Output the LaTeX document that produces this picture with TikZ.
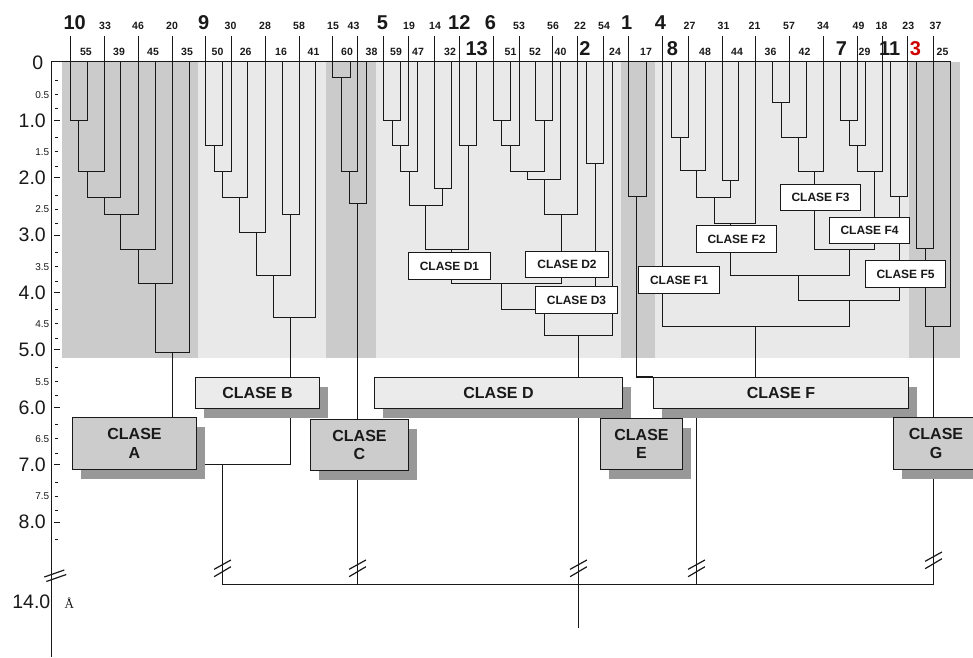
\documentclass[tikz,border=0pt]{standalone}
\usepackage{fontspec}
\setmainfont{Liberation Sans}
\newfontfamily\unitfont{Liberation Serif}
\usetikzlibrary{shadows}
\definecolor{banddark}{RGB}{203,203,203}
\definecolor{bandlight}{RGB}{233,233,233}
\definecolor{boxdark}{RGB}{204,204,204}
\definecolor{boxlight}{RGB}{235,235,235}
\definecolor{shade}{RGB}{152,152,152}
\definecolor{ink}{RGB}{25,25,25}
\definecolor{leafred}{RGB}{206,0,0}
\pgfdeclarelayer{bands}
\pgfdeclarelayer{lines}
\pgfsetlayers{bands,lines,main}
% merge point placed on the pixel grid so thin rules stay crisp
\newcommand\cpt[3]{\coordinate (#1) at ({floor(#2)+0.5},{floor(#3)+0.5});}
% bracket joining two children through the merge point (stem position, height)
\newcommand\dendjoin[3]{\draw[tree] (#1) |- (#2) -| (#3);}

\begin{document}
\begin{tikzpicture}[x=1pt,y=-1pt,
  tree/.style={draw=ink,line width=1.45pt},
  axisline/.style={draw=ink,line width=1.5pt},
  classbox/.style={draw=ink,line width=1.45pt,inner sep=0pt,align=center,
    font=\fontsize{16}{18.3}\selectfont\bfseries,text=ink,
    drop shadow={shadow xshift=8pt,shadow yshift=-9pt,fill=shade,opacity=1}},
  darkbox/.style={classbox,fill=boxdark},
  lightbox/.style={classbox,fill=boxlight},
  subbox/.style={draw=ink,line width=1.45pt,fill=white,inner sep=0pt,
    font=\fontsize{12}{14}\selectfont\bfseries,text=ink},
  leafno/.style={anchor=base,inner sep=0pt,font=\fontsize{10.5}{12}\selectfont\bfseries,text=ink},
  leafbig/.style={anchor=base,inner sep=0pt,font=\fontsize{20}{22}\selectfont\bfseries,text=ink},
  majorlab/.style={anchor=base east,inner sep=0pt,font=\fontsize{19.5}{21}\selectfont,text=ink},
  halflab/.style={anchor=base east,inner sep=0pt,font=\fontsize{10}{12}\selectfont,text=ink},
  cutmark/.pic={\draw[draw=ink,line width=1.2pt] (-8.4,1.3) -- (8.4,-8) (-8.4,8.7) -- (8.4,-1.3);}
]
\useasboundingbox (0,0) rectangle (973,657);

% ---------- shaded class bands ----------
\begin{pgfonlayer}{bands}
\fill[banddark]  (62,62)  rectangle (198,358);
\fill[bandlight] (198,62) rectangle (326,358);
\fill[banddark]  (326,62) rectangle (376,358);
\fill[bandlight] (376,62) rectangle (621,358);
\fill[banddark]  (621,62) rectangle (655,358);
\fill[bandlight] (655,62) rectangle (909,358);
\fill[banddark]  (909,62) rectangle (960,358);
\end{pgfonlayer}

% ---------- distance axis ----------
\coordinate (ax0) at (51.5,61.5);
\coordinate (axE) at (951,61.5);
\coordinate (axB) at (51.5,657);
\node[majorlab] (y0) at (43.5,69) {0};
\foreach \v in {1,...,8}{
  \pgfmathsetmacro\yy{floor(63+57.4*\v)+0.5}
  \pgfmathsetmacro\yb{63+57.4*\v+6.7}
  \node[majorlab] (y\v) at (46,\yb) {\v.0};
  \draw[ink,line width=1.8pt] (54,\yy) -- (60,\yy);
}
\foreach \v in {0,...,7}{
  \pgfmathsetmacro\yh{floor(63+57.4*(\v+0.5)+2.7)+0.5}
  \pgfmathsetmacro\yhb{63+57.4*(\v+0.5)+6.3}
  \node[halflab] (h\v) at (49.5,\yhb) {\v.5};
  \draw[ink,line width=1pt] (54.5,\yh) -- (57.5,\yh);
}
\foreach \k in {0,...,16}{
  \pgfmathsetmacro\ym{floor(63+57.4*(0.3+0.5*\k))+0.5}
  \draw[ink,line width=1pt] (55,\ym) -- (57.5,\ym);
}
\node[majorlab] (y14) at (50.5,608.3) {14.0};
\node[anchor=base west,inner sep=0pt,font=\unitfont\fontsize{13}{14}\selectfont,text=ink] (unit) at (64.3,608.3) {Å};

% ---------- leaves and their numbers ----------
\foreach \n/\x/\lx in {33/104.3/105, 46/138/138, 20/172/172, 30/231.3/230.5, 28/265/265,
    58/299/299, 15/332.7/333, 43/357.7/353.5, 19/408.7/409, 14/434/435, 53/519/519,
    56/552.3/553, 22/577.7/580, 54/603.3/604, 27/688.3/689.5, 31/722/723.5, 21/755.7/754.5,
    57/789.7/789, 34/823/823, 49/857/858.5, 18/882.3/881.5, 23/907.7/908.3, 37/933.3/935.5}{
  \coordinate (L\n) at ({floor(\x)+0.5},35.5);
  \node[leafno] (T\n) at (\lx,29) {\n};
}
\foreach \n/\x/\lx in {55/87/86, 39/120.7/119, 45/155/153, 35/189/187, 50/222.7/217.5,
    26/247.7/245.7, 16/282/281, 41/315.7/313.5, 60/350/347, 38/366.7/371.5, 59/400.7/396,
    47/417.3/418, 32/451/450, 51/510/510.5, 52/535.7/535, 40/560.7/560.5, 24/612/615,
    17/646/646, 48/705/705, 44/738.7/737, 36/772.7/770.5, 42/806.3/804.5, 29/865.7/864.5,
    25/950/942.5}{
  \coordinate (L\n) at ({floor(\x)+0.5},61.5);
  \node[leafno] (T\n) at (\lx,55) {\n};
}
\foreach \n/\x/\lx in {10/70.7/74.7, 9/205.7/203.8, 5/383.3/382.5, 12/459.3/459.3,
    6/493.3/490.5, 1/628.3/626.7, 4/662.7/660.5}{
  \coordinate (L\n) at ({floor(\x)+0.5},35.5);
  \node[leafbig] (T\n) at (\lx,29.3) {\n};
}
\foreach \n/\x/\lx in {13/476.7/476.7, 2/586/585, 8/671.3/672.5, 7/840.3/841.3, 11/890.7/889.7}{
  \coordinate (L\n) at ({floor(\x)+0.5},61.5);
  \node[leafbig] (T\n) at (\lx,55) {\n};
}
\coordinate (L3) at (916.5,61.5);
\node[leafbig,text=leafred] (T3) at (915.5,55) {3};

% ---------- class boxes ----------
\node[darkbox,minimum width=124pt,minimum height=52pt] (boxA) at (134.5,443.5) {CLASE\\A};
\node[lightbox,minimum width=124pt,minimum height=31pt] (boxB) at (257.5,393) {CLASE B};
\node[darkbox,minimum width=98pt,minimum height=51pt] (boxC) at (359.5,445) {CLASE\\C};
\node[lightbox,minimum width=248pt,minimum height=31pt] (boxD) at (498.5,393) {CLASE D};
\node[darkbox,minimum width=82pt,minimum height=51pt] (boxE) at (641.5,444) {CLASE\\E};
\node[lightbox,minimum width=255pt,minimum height=31pt] (boxF) at (781,393) {CLASE F};
\node[darkbox,minimum width=85pt,minimum height=52pt] (boxG) at (936,443.5) {CLASE\\G};

\node[subbox,minimum width=82pt,minimum height=27pt] (D1) at (449.5,266) {CLASE D1};
\node[subbox,minimum width=83pt,minimum height=26pt] (D2) at (567,264.5) {CLASE D2};
\node[subbox,minimum width=82pt,minimum height=27pt] (D3) at (576.5,300) {CLASE D3};
\node[subbox,minimum width=81pt,minimum height=27pt] (F1) at (679,280) {CLASE F1};
\node[subbox,minimum width=80pt,minimum height=27pt] (F2) at (736.5,239) {CLASE F2};
\node[subbox,minimum width=80pt,minimum height=26pt] (F3) at (820.5,197.5) {CLASE F3};
\node[subbox,minimum width=80pt,minimum height=26pt] (F4) at (869.5,230.5) {CLASE F4};
\node[subbox,minimum width=80pt,minimum height=27pt] (F5) at (905.5,274) {CLASE F5};

\begin{pgfonlayer}{lines}
\draw[axisline] (axE) -- (ax0) -- (axB);
\draw[draw=ink,line width=1.2pt] (44.3,577) -- (64.3,570) (46.3,581.5) -- (66.3,574.5);

% class A
\cpt{MA1}{78.3}{120}   \dendjoin{L10}{MA1}{L55}
\cpt{MA2}{87}{171.7}   \dendjoin{MA1}{MA2}{L33}
\cpt{MA3}{104.3}{197.3}\dendjoin{MA2}{MA3}{L39}
\cpt{MA4}{120.7}{214.3}\dendjoin{MA3}{MA4}{L46}
\cpt{MA5}{138}{249}    \dendjoin{MA4}{MA5}{L45}
\cpt{MA6}{155}{283.3}  \dendjoin{MA5}{MA6}{L20}
\cpt{MA7}{172}{352.3}  \dendjoin{MA6}{MA7}{L35}
\draw[tree] (MA7) -- (MA7 |- boxA.north);

% class B
\cpt{MB1}{214}{145.7}  \dendjoin{L9}{MB1}{L50}
\cpt{MB2}{222.7}{171.3}\dendjoin{MB1}{MB2}{L30}
\cpt{MB3}{239.3}{197.3}\dendjoin{MB2}{MB3}{L26}
\cpt{MB4}{256.7}{232}  \dendjoin{MB3}{MB4}{L28}
\cpt{MB5}{290.3}{214}  \dendjoin{L16}{MB5}{L58}
\cpt{MB6}{273}{275}    \dendjoin{MB4}{MB6}{MB5}
\cpt{MB7}{290.3}{317.7}\dendjoin{MB6}{MB7}{L41}
\draw[tree] (MB7) -- (MB7 |- boxB.north);

% class C
\cpt{MC1}{341}{77.3}   \dendjoin{L15}{MC1}{L60}
\cpt{MC2}{349.3}{171.3}\dendjoin{MC1}{MC2}{L43}
\cpt{MC3}{357.7}{203.7}\dendjoin{MC2}{MC3}{L38}
\draw[tree] (MC3) -- (MC3 |- boxC.north);

% class D
\cpt{MD1}{392}{120}    \dendjoin{L5}{MD1}{L59}
\cpt{MD2}{400.7}{145.7}\dendjoin{MD1}{MD2}{L19}
\cpt{MD3}{409}{171}    \dendjoin{MD2}{MD3}{L47}
\cpt{MD4}{442.7}{188.3}\dendjoin{L14}{MD4}{L32}
\cpt{MD5}{425.7}{205.7}\dendjoin{MD3}{MD5}{MD4}
\cpt{MD6}{468}{145.7}  \dendjoin{L12}{MD6}{L13}
\cpt{MD7}{451}{249}    \dendjoin{MD5}{MD7}{MD6}
\draw[tree] (MD7) -- (MD7 |- D1.north);
\cpt{MD8}{501.7}{120}  \dendjoin{L6}{MD8}{L51}
\cpt{MD9}{510}{145.7}  \dendjoin{MD8}{MD9}{L53}
\cpt{MDa}{544}{120}    \dendjoin{L52}{MDa}{L56}
\cpt{MDb}{527}{171}    \dendjoin{MD9}{MDb}{MDa}
\cpt{MDc}{544}{179.3}  \dendjoin{MDb}{MDc}{L40}
\cpt{MDd}{561}{214.3}  \dendjoin{MDc}{MDd}{L22}
\draw[tree] (MDd) -- (MDd |- D2.north);
\cpt{MDe}{501.7}{283.3}\dendjoin{MD7 |- D1.south}{MDe}{MDd |- D2.south}
\cpt{MDf}{595}{163.3}  \dendjoin{L2}{MDf}{L54}
\cpt{MDg}{544}{309}    \dendjoin{MDe}{MDg}{MDf}
\cpt{MDh}{578}{335}    \dendjoin{MDg |- D3.south}{MDh}{L24}
\draw[tree] (MDh) -- (MDh |- boxD.north);

% class E
\cpt{ME1}{636.7}{196.7}\dendjoin{L1}{ME1}{L17}
\draw[tree] (ME1) |- (boxF.north west);

% class F
\cpt{MF1}{680}{137.3}  \dendjoin{L8}{MF1}{L27}
\cpt{MF2}{696.7}{170.7}\dendjoin{MF1}{MF2}{L48}
\cpt{MF3}{730}{180}    \dendjoin{L31}{MF3}{L44}
\cpt{MF4}{714}{197.3}  \dendjoin{MF2}{MF4}{MF3}
\cpt{MF5}{730}{223.3}  \dendjoin{MF4}{MF5}{L21}
\draw[tree] (MF5) -- (MF5 |- F2.north);
\cpt{MF6}{781}{102.7}  \dendjoin{L36}{MF6}{L57}
\cpt{MF7}{798.3}{137.7}\dendjoin{MF6}{MF7}{L42}
\cpt{MF8}{814.3}{171}  \dendjoin{MF7}{MF8}{L34}
\draw[tree] (MF8) -- (MF8 |- F3.north);
\cpt{MF9}{849}{120}    \dendjoin{L7}{MF9}{L49}
\cpt{MFa}{857.3}{145.7}\dendjoin{MF9}{MFa}{L29}
\cpt{MFb}{874.3}{171}  \dendjoin{MFa}{MFb}{L18}
\draw[tree] (MFb) -- (MFb |- F4.north);
\cpt{MFc}{849}{249}    \dendjoin{MF8 |- F3.south}{MFc}{MFb |- F4.south}
\cpt{MFd}{798.3}{275}  \dendjoin{MF5 |- F2.south}{MFd}{MFc}
\cpt{MFe}{899.3}{196.7}\dendjoin{L11}{MFe}{L23}
\draw[tree] (MFe) -- (MFe |- F5.north);
\cpt{MFf}{849}{300.7}  \dendjoin{MFd}{MFf}{MFe |- F5.south}
\cpt{MFg}{755.7}{326}  \dendjoin{L4}{MFg}{MFf}
\draw[tree] (MFg) -- (MFg |- boxF.north);

% class G
\cpt{MG1}{925}{248.3}  \dendjoin{L3}{MG1}{L37}
\cpt{MG2}{933}{326}    \dendjoin{MG1}{MG2}{L25}
\draw[tree] (MG2) -- (MG2 |- boxG.north);

% links between the classes
\cpt{Bx}{290.7}{464.3}
\cpt{AB}{222.7}{464.3}
\cpt{Rt}{578}{584.3}
\cpt{Rb}{578}{627.3}
\cpt{Cx}{357.7}{584.3}
\cpt{Fx}{696.3}{584.3}
\cpt{Gx}{933}{584.3}
\draw[tree] (Bx |- boxB.south) -- (Bx) -- (AB -| boxA.east);
\draw[tree] (AB) -- (AB |- Rt) -- (Gx);
\draw[tree] (Cx |- boxC.south) -- (Cx);
\draw[tree] (Rt |- boxD.south) -- (Rb);
\draw[tree] (Fx |- boxF.south) -- (Fx);
\draw[tree] (Gx |- boxG.south) -- (Gx);

\pic at (222.5,568) {cutmark};
\pic at (357.5,568) {cutmark};
\pic at (578.5,568) {cutmark};
\pic at (696.5,568) {cutmark};
\pic at (933.5,560) {cutmark};
\end{pgfonlayer}
\end{tikzpicture}
\end{document}
